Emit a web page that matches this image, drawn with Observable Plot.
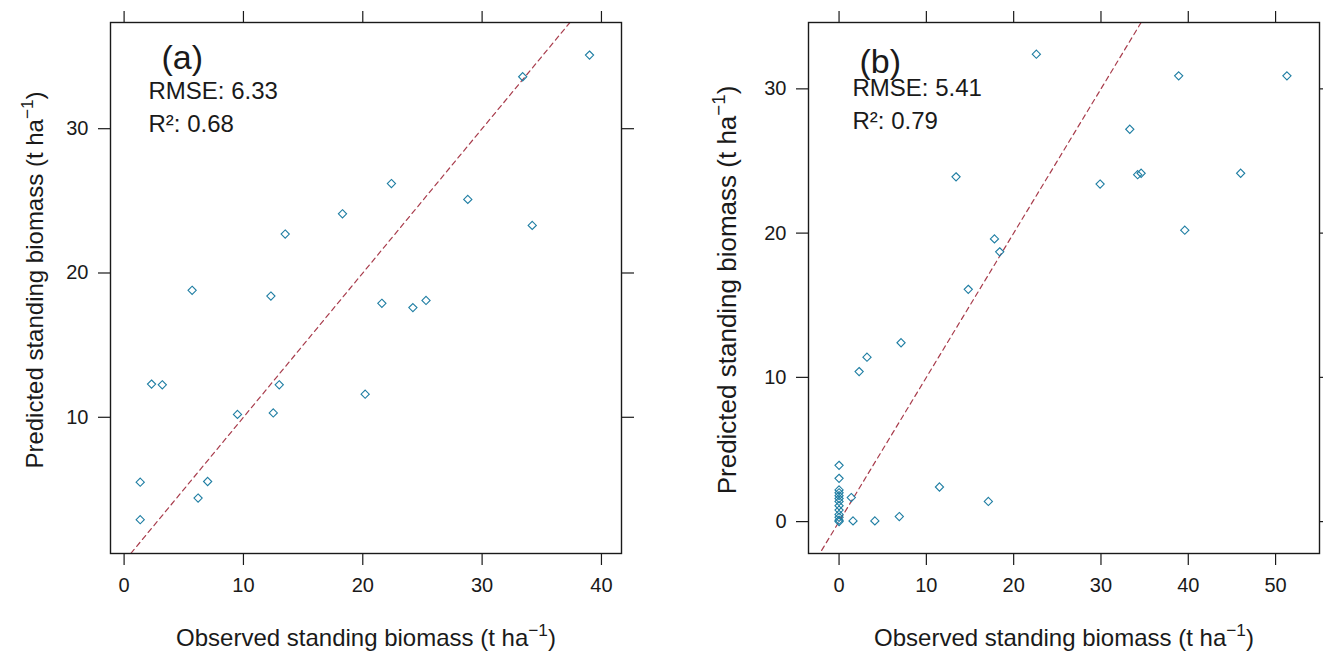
<!DOCTYPE html>
<html>
<head>
<meta charset="utf-8">
<script src="https://cdn.jsdelivr.net/npm/d3@7"></script>
<script src="https://cdn.jsdelivr.net/npm/@observablehq/plot@0.6"></script>
<style>
  html, body { margin: 0; padding: 0; background: #fff; }
  #wrap { display: flex; width: 1323px; height: 651px; overflow: hidden; }
  #wrap svg { overflow: visible; }
</style>
</head>
<body>
<div id="wrap"></div>
<script>
// ---------- data ----------
const panelTags = ["(a)", "(b)"];
const rmseTexts = ["RMSE: 6.33", "RMSE: 5.41"];
const r2Texts = ["R²: 0.68", "R²: 0.79"];

const xTicksA = [0, 10, 20, 30, 40];
const yTicksA = [10, 20, 30];
const xTicksB = [0, 10, 20, 30, 40, 50];
const yTicksB = [0, 10, 20, 30];

// panel (a): observed vs predicted standing biomass
const observedA = [39.0, 33.4, 22.4, 18.3, 28.8, 34.2, 13.5, 5.7, 12.3, 21.6, 24.2, 25.3,
                   2.3, 3.2, 13.0, 9.5, 12.5, 20.2, 1.35, 7.0, 6.2, 1.35];
const predictedA = [35.1, 33.6, 26.2, 24.1, 25.1, 23.3, 22.7, 18.8, 18.4, 17.9, 17.6, 18.1,
                    12.3, 12.25, 12.25, 10.2, 10.3, 11.6, 5.5, 5.55, 4.4, 2.9];

// panel (b)
const observedB = [22.6, 38.9, 51.3, 33.3, 13.4, 29.9, 34.2, 34.6, 46.0, 39.6, 17.8, 18.4,
                   14.8, 7.1, 3.2, 2.3, 11.5, 17.1, 6.9, 4.1, 1.6, 1.4,
                   0, 0, 0, 0, 0, 0, 0, 0, 0, 0, 0, 0, 0];
const predictedB = [32.4, 30.9, 30.9, 27.2, 23.9, 23.4, 24.05, 24.15, 24.15, 20.2, 19.6, 18.7,
                    16.1, 12.4, 11.4, 10.4, 2.4, 1.4, 0.35, 0.05, 0.05, 1.67,
                    3.9, 3.0, 2.2, 2.0, 1.8, 1.6, 1.4, 1.1, 0.8, 0.5, 0.3, 0.1, 0.0];

// 1:1 reference line
const oneToOne = [-10, 70];

const xLabel = "Observed standing biomass (t ha−1)";
const yLabel = "Predicted standing biomass (t ha−1)";

// ---------- drawing ----------
const FONT = "'Liberation Sans', Arial, sans-serif";
const POINT = "#1f7ea3";
const ABLINE = "#a83c4c";
const INK = "#1a1a1a";

function panel(cfg) {
  const idx = d3.range(cfg.obs.length);
  const fig = Plot.plot({
    width: cfg.width,
    height: 651,
    marginLeft: cfg.marginLeft,
    marginRight: cfg.marginRight,
    marginTop: 22,
    marginBottom: 98,
    style: { fontFamily: FONT, fontSize: "20px", color: INK, background: "#fff" },
    x: { domain: cfg.xDomain },
    y: { domain: cfg.yDomain },
    marks: [
      Plot.line(oneToOne, { x: d => d, y: d => d, stroke: ABLINE, strokeWidth: 1.2, strokeDasharray: "5,4", clip: true }),
      Plot.dot(idx, { x: i => cfg.obs[i], y: i => cfg.pred[i], symbol: "diamond2", r: 3.7, stroke: POINT, fill: "none", strokeWidth: 1.1 }),
      Plot.frame({ stroke: INK, strokeWidth: 1.4 }),
      Plot.axisX(cfg.xTicks, { anchor: "bottom", tickSize: 12, tickPadding: 12, fontSize: 20, label: null, stroke: INK, strokeWidth: 1.2 }),
      Plot.axisX(cfg.xTicks, { anchor: "top", tickSize: 12, tickFormat: () => "", label: null, stroke: INK, strokeWidth: 1.2 }),
      Plot.axisY(cfg.yTicks, { anchor: "left", tickSize: 12, tickPadding: 10, fontSize: 20, label: null, stroke: INK, strokeWidth: 1.2 }),
      Plot.axisY(cfg.yTicks, { anchor: "right", tickSize: 12, tickFormat: () => "", label: null, stroke: INK, strokeWidth: 1.2 }),
      Plot.text([cfg.tag], { frameAnchor: "top-left", text: d => d, dx: cfg.tagDx, dy: cfg.tagDy, lineAnchor: "bottom", textAnchor: "start", fontSize: 34, fill: INK }),
      Plot.text([cfg.rmse], { frameAnchor: "top-left", text: d => d, dx: cfg.txtDx, dy: cfg.rmseDy, lineAnchor: "bottom", textAnchor: "start", fontSize: 24, fill: INK }),
      Plot.text([cfg.r2], { frameAnchor: "top-left", text: d => d, dx: cfg.txtDx, dy: cfg.r2Dy, lineAnchor: "bottom", textAnchor: "start", fontSize: 24, fill: INK }),
      Plot.text([xLabel], { frameAnchor: "bottom", text: d => d, dy: 92, lineAnchor: "bottom", textAnchor: "middle", fontSize: 24, fill: INK }),
      Plot.text([yLabel], { frameAnchor: "left", text: d => d, rotate: -90, dx: cfg.yLabDx, dy: cfg.yLabDy, lineAnchor: "bottom", textAnchor: "middle", fontSize: cfg.yLabSize, fill: INK })
    ]
  });
  // superscript the unit exponent
  fig.querySelectorAll("text").forEach(t => {
    const s = t.textContent;
    if (s === xLabel || s === yLabel) {
      const base = s.replace("−1)", "");
      t.textContent = "";
      const ns = "http://www.w3.org/2000/svg";
      const a = document.createElementNS(ns, "tspan"); a.textContent = base;
      const b = document.createElementNS(ns, "tspan"); b.textContent = "−1"; b.setAttribute("dy", "-0.55em"); b.setAttribute("font-size", "0.72em");
      const c = document.createElementNS(ns, "tspan"); c.textContent = ")"; c.setAttribute("dy", "0.4em");
      t.append(a, b, c);
    }
  });
  return fig;
}

const wrap = document.getElementById("wrap");
wrap.append(panel({
  width: 661, marginLeft: 110, marginRight: 40,
  xDomain: [-1.14, 41.68], yDomain: [0.56, 37.36],
  xTicks: xTicksA, yTicks: yTicksA,
  obs: observedA, pred: predictedA,
  tag: panelTags[0], rmse: rmseTexts[0], r2: r2Texts[0],
  tagDx: 51, tagDy: 46, txtDx: 38, rmseDy: 76, r2Dy: 109, yLabDx: -68, yLabDy: -8, yLabSize: 24
}));
wrap.append(panel({
  width: 662, marginLeft: 147, marginRight: 4,
  xDomain: [-3.5, 55.03], yDomain: [-2.21, 34.6],
  xTicks: xTicksB, yTicks: yTicksB,
  obs: observedB, pred: predictedB,
  tag: panelTags[1], rmse: rmseTexts[1], r2: r2Texts[1],
  tagDx: 51, tagDy: 50, txtDx: 44, rmseDy: 73, r2Dy: 106, yLabDx: -73, yLabDy: 2, yLabSize: 26
}));
</script>
</body>
</html>
